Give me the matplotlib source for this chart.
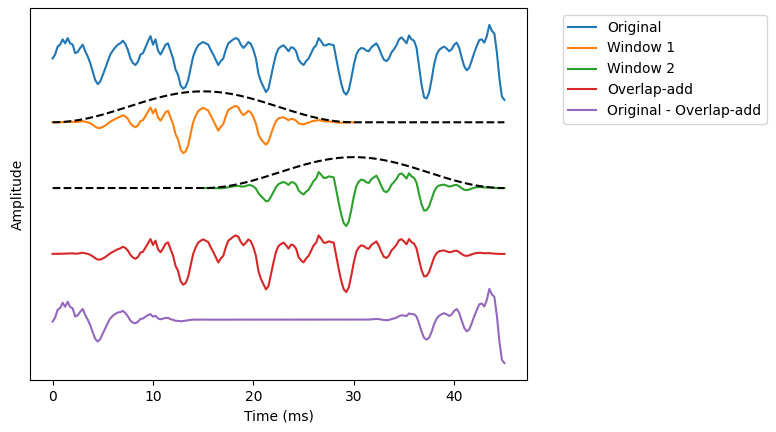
import numpy as np
import matplotlib
matplotlib.use("Agg")
import matplotlib.pyplot as plt

# sample spacing of the signal, ms
step_ms = 0.25

# original signal, every 0.25 ms from 0 to 45 ms
original = [
    -0.03, 0.03, 0.15, 0.18, 0.26, 0.20, 0.28, 0.20, 0.18, 0.05,
    0.07, 0.13, 0.18, 0.08, 0.00, -0.10, -0.23, -0.36, -0.42, -0.38,
    -0.28, -0.18, -0.07, 0.03, 0.09, 0.14, 0.18, 0.20, 0.24, 0.19,
    0.10, -0.03, -0.10, -0.13, -0.08, 0.03, 0.05, 0.14, 0.23, 0.31,
    0.18, 0.26, 0.09, 0.03, 0.10, 0.18, 0.20, 0.08, -0.03, -0.20,
    -0.28, -0.44, -0.49, -0.46, -0.36, -0.18, 0.00, 0.10, 0.17, 0.20,
    0.22, 0.20, 0.18, 0.10, 0.03, -0.05, -0.13, -0.07, -0.03, 0.10,
    0.20, 0.23, 0.26, 0.28, 0.26, 0.18, 0.13, 0.17, 0.22, 0.19,
    0.10, -0.03, -0.26, -0.38, -0.46, -0.54, -0.49, -0.31, -0.13, 0.03,
    0.12, 0.15, 0.17, 0.13, 0.08, 0.14, 0.13, 0.08, -0.05, -0.10,
    -0.13, -0.07, -0.03, 0.05, 0.13, 0.17, 0.28, 0.23, 0.17, 0.17,
    0.19, 0.18, 0.17, -0.03, -0.23, -0.41, -0.54, -0.58, -0.51, -0.33,
    -0.13, 0.03, 0.10, 0.13, 0.12, 0.09, 0.08, 0.14, 0.17, 0.20,
    0.13, 0.03, -0.05, -0.07, -0.03, 0.06, 0.11, 0.17, 0.26, 0.29,
    0.25, 0.20, 0.32, 0.26, 0.24, 0.13, -0.15, -0.43, -0.62, -0.64,
    -0.55, -0.35, -0.12, 0.03, 0.10, 0.13, 0.15, 0.12, 0.08, 0.11,
    0.18, 0.21, 0.13, -0.02, -0.15, -0.21, -0.17, -0.06, 0.06, 0.16,
    0.25, 0.26, 0.21, 0.31, 0.48, 0.39, 0.35, 0.06, -0.33, -0.61,
    -0.66,
]

# rising half of the 30 ms window (0 to 15 ms, every 0.25 ms)
window_rise = [
    0.0, 0.0007, 0.0027, 0.0062, 0.0109, 0.0170, 0.0245, 0.0332, 0.0432, 0.0545,
    0.0670, 0.0807, 0.0955, 0.1114, 0.1284, 0.1464, 0.1654, 0.1853, 0.2061, 0.2277,
    0.25, 0.2730, 0.2966, 0.3208, 0.3455, 0.3706, 0.3960, 0.4218, 0.4477, 0.4738,
    0.5, 0.5262, 0.5523, 0.5782, 0.6040, 0.6294, 0.6545, 0.6792, 0.7034, 0.7270,
    0.75, 0.7723, 0.7939, 0.8147, 0.8346, 0.8536, 0.8716, 0.8886, 0.9045, 0.9193,
    0.9330, 0.9455, 0.9568, 0.9668, 0.9755, 0.9830, 0.9891, 0.9938, 0.9973, 0.9993,
    1.0,
]

labels = ["Original", "Window 1", "Window 2", "Overlap-add", "Original - Overlap-add"]

orig = np.array(original)
n = len(orig)
t = np.arange(n) * step_ms

shape = np.array(window_rise + window_rise[::-1][1:])
hop = len(window_rise) - 1
w1 = np.zeros(n)
w1[:len(shape)] = shape
w2 = np.zeros(n)
w2[hop:hop + len(shape)] = shape

win1 = orig * w1
win2 = orig * w2
ola = win1 + win2
resid = orig - ola

fig = plt.figure(figsize=(7.76, 4.32), dpi=100)
ax = fig.add_axes([30 / 776, 52 / 432, 497 / 776, 372 / 432])

ax.plot(t, orig, color="C0", label=labels[0])
ax.plot(t[:len(shape)], win1[:len(shape)] - 1, color="C1", label=labels[1])
ax.plot(t, 0.47 * w1 - 1, "k--")
ax.plot(t[hop:], win2[hop:] - 2, color="C2", label=labels[2])
ax.plot(t, 0.47 * w2 - 2, "k--")
ax.plot(t, ola - 3, color="C3", label=labels[3])
ax.plot(t, resid - 4, color="C4", label=labels[4])

ax.set_yticks([])
ax.set_xlabel("Time (ms)")
ax.set_ylabel("Amplitude")
ax.legend(loc="upper left", bbox_to_anchor=(1.058, 1))

fig.savefig("out.png", dpi=100)
